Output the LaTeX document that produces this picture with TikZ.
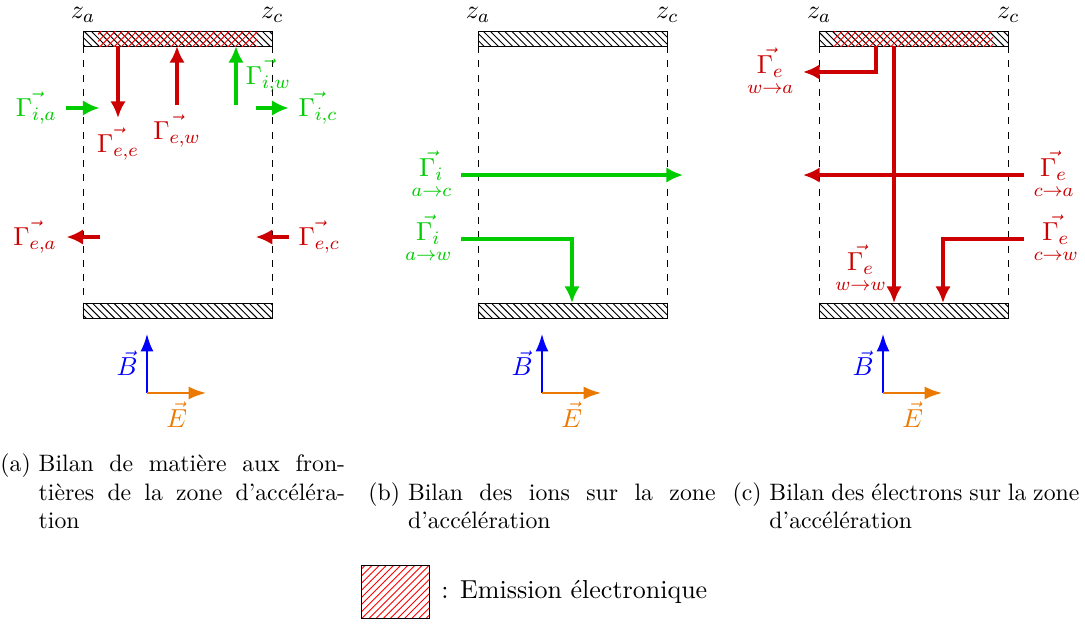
\documentclass[tikz,border=0pt]{standalone}
\usepackage{amsmath}
\usetikzlibrary{arrows.meta,positioning,patterns}
\definecolor{BilRed}{RGB}{204,0,0}
\definecolor{BilGreen}{RGB}{0,204,0}
\definecolor{BilBlue}{RGB}{0,0,255}
\definecolor{BilOrange}{RGB}{235,120,0}
\tikzset{
  bil/wall/.style={
    draw=black,
    line width=0.4pt,
    pattern=north west lines,
    minimum width=2.8cm,
    minimum height=0.222cm,
    inner sep=0pt,
    outer sep=0pt
  },
  bil/emit/.style={
    pattern=north east lines,
    pattern color=red,
    minimum width=2.35cm,
    minimum height=0.222cm,
    inner sep=0pt,
    outer sep=0pt
  },
  bil/legbox/.style={
    draw=black,
    line width=0.4pt,
    pattern=north east lines,
    pattern color=red,
    minimum width=1.006cm,
    minimum height=0.785cm,
    inner sep=0pt
  },
  bil/edge/.style={dashed, line width=0.4pt, draw=black},
  bil/eflux/.style={-{Latex[length=7pt,width=6.5pt]}, line width=1.6pt, color=BilRed},
  bil/iflux/.style={-{Latex[length=7pt,width=6.5pt]}, line width=1.6pt, color=BilGreen},
  bil/bfield/.style={-{Latex[length=7.5pt,width=5.5pt]}, line width=1.2pt, color=BilBlue},
  bil/efield/.style={-{Latex[length=7.5pt,width=5.5pt]}, line width=1.2pt, color=BilOrange},
  bil/label/.style={font=\fontsize{10.95}{13.6}\selectfont},
  bil/caption/.style={anchor=north west, inner sep=0pt, font=\fontsize{10}{12}\selectfont}
}

\begin{document}
\begin{tikzpicture}[x=1cm,y=1cm]
  \useasboundingbox (0,0) rectangle (16.055,-9.234);
  % walls, boundaries and fields of the three panels
  \foreach \p/\x in {A/2.628,B/8.473,C/13.519}{
    \node[bil/wall] (top\p) at (\x,-0.570) {};
    \node[bil/wall] (bot\p) at (\x,-4.595) {};
    \draw[bil/edge] (top\p.south west) -- (bot\p.north west);
    \draw[bil/edge] (top\p.south east) -- (bot\p.north east);
    \node[above,bil/label] (za\p) at (top\p.north west) {$z_a$};
    \node[above,bil/label] (zc\p) at (top\p.north east) {$z_c$};
    \coordinate (o\p) at ({\x-0.453},-5.815);
    \coordinate (b\p) at ({\x-0.453},-4.935);
    \coordinate (e\p) at ({\x+0.427},-5.815);
    \draw[bil/bfield] (o\p) -- node[left,bil/label] (labB\p) {$\vec{B}$} (b\p);
    \draw[bil/efield] (o\p) -- node[below,bil/label] (labE\p) {$\vec{E}$} (e\p);
  }
  \node[bil/emit] (emitA) at (2.628,-0.570) {};
  \node[bil/emit] (emitC) at (13.519,-0.570) {};

  % (a) fluxes at the borders
  \coordinate (eeA) at (1.746,-1.746);
  \coordinate (ewA) at (2.619,-1.554);
  \coordinate (iwA) at (3.492,-1.554);
  \coordinate (iaA0) at (0.983,-1.598);
  \coordinate (iaA1) at (1.473,-1.598);
  \coordinate (icA0) at (3.783,-1.598);
  \coordinate (icA1) at (4.273,-1.598);
  \coordinate (eaA0) at (1.473,-3.507);
  \coordinate (eaA1) at (0.983,-3.507);
  \coordinate (ecA0) at (4.273,-3.507);
  \coordinate (ecA1) at (3.783,-3.507);
  \draw[bil/eflux] (topA.south -| eeA) -- (eeA) node[below,bil/label] (labEeA) {$\vec{\Gamma_{e,e}}$};
  \draw[bil/eflux] (ewA) node[below,bil/label] (labEwA) {$\vec{\Gamma_{e,w}}$} -- (topA.south -| ewA);
  \draw[bil/iflux] (iwA) -- node[right,bil/label] (labIwA) {$\vec{\Gamma_{i,w}}$} (topA.south -| iwA);
  \draw[bil/iflux] (iaA0) node[left,bil/label] (labIaA) {$\vec{\Gamma_{i,a}}$} -- (iaA1);
  \draw[bil/iflux] (icA0) -- (icA1) node[right,bil/label] (labIcA) {$\vec{\Gamma_{i,c}}$};
  \draw[bil/eflux] (eaA0) -- (eaA1) node[left,bil/label] (labEaA) {$\vec{\Gamma_{e,a}}$};
  \draw[bil/eflux] (ecA0) node[right,bil/label] (labEcA) {$\vec{\Gamma_{e,c}}$} -- (ecA1);

  % (b) ions
  \coordinate (acB0) at (6.822,-2.590);
  \coordinate (acB1) at (10.107,-2.590);
  \coordinate (awB0) at (6.822,-3.537);
  \coordinate (awB1) at (8.464,-3.537);
  \draw[bil/iflux] (acB0) node[left,bil/label] (labAcB) {$\underset{a\rightarrow c}{\vec{\Gamma_i}}$} -- (acB1);
  \draw[bil/iflux] (awB0) node[left,bil/label] (labAwB) {$\underset{a\rightarrow w}{\vec{\Gamma_i}}$} -- (awB1) -- (botB.north -| awB1);

  % (c) electrons
  \coordinate (waC0) at (12.963,-1.065);
  \coordinate (waC1) at (11.882,-1.065);
  \coordinate (wwC) at (13.229,-3.980);
  \coordinate (caC0) at (15.152,-2.590);
  \coordinate (caC1) at (11.882,-2.590);
  \coordinate (cwC0) at (15.152,-3.537);
  \coordinate (cwC1) at (13.954,-3.537);
  \draw[bil/eflux] (topC.south -| waC0) -- (waC0) -- (waC1) node[left,bil/label] (labWaC) {$\underset{w\rightarrow a}{\vec{\Gamma_e}}$};
  \draw[bil/eflux] (topC.south -| wwC) -- (botC.north -| wwC);
  \node[left,bil/label,text=BilRed] (labWwC) at (wwC) {$\underset{w\rightarrow w}{\vec{\Gamma_e}}$};
  \draw[bil/eflux] (caC0) node[right,bil/label] (labCaC) {$\underset{c\rightarrow a}{\vec{\Gamma_e}}$} -- (caC1);
  \draw[bil/eflux] (cwC0) node[right,bil/label] (labCwC) {$\underset{c\rightarrow w}{\vec{\Gamma_e}}$} -- (cwC1) -- (botC.north -| cwC1);

  % captions
  \node[bil/caption] (capA) at (0,-6.681) {\begin{tabular}{@{}l@{\ }p{129pt}@{}}
    (a) & \makebox[\linewidth][s]{Bilan de matière aux fron-}\\
        & \makebox[\linewidth][s]{tières de la zone d'accéléra-}\\
        & tion
  \end{tabular}};
  \node[bil/caption] (capB) at (5.445,-7.103) {\begin{tabular}{@{}l@{\ }p{129.5pt}@{}}
    (b) & \makebox[\linewidth][s]{Bilan des ions sur la zone}\\
        & d'accélération
  \end{tabular}};
  \node[bil/caption] (capC) at (10.832,-7.103) {\begin{tabular}{@{}l@{\ }p{130.5pt}@{}}
    (c) & \makebox[\linewidth][s]{Bilan des électrons sur la zone}\\
        & d'accélération
  \end{tabular}};

  % legend
  \node[bil/legbox] (legBox) at (5.845,-8.753) {};
  \node[right=1.5pt of legBox,bil/label] (legText) {: Emission électronique};
\end{tikzpicture}
\end{document}
